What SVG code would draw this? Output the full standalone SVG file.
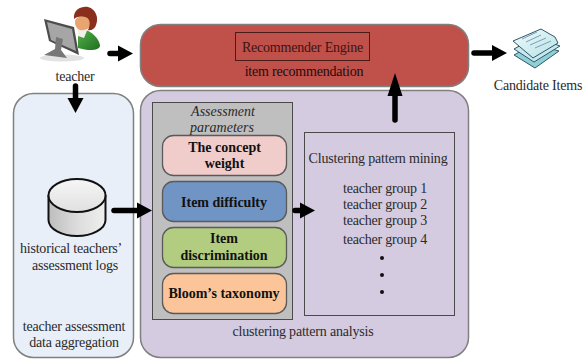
<svg xmlns="http://www.w3.org/2000/svg" width="587" height="361" viewBox="0 0 587 361">
<style>
text{font-family:"Liberation Serif","Times New Roman",serif;fill:#2a2a2a;text-anchor:middle}
.t{font-size:14px;letter-spacing:-.2px}
.i{font-size:14px;font-style:italic}
.b{font-size:14px;font-weight:bold;fill:#111}
.p{stroke:#5a5a5a;stroke-width:1.300}
.o{stroke:#808080;stroke-width:1.500}
.c{fill:none;stroke:#000;stroke-width:5.500;stroke-linecap:round}
</style>
<defs>
<marker id="ah" markerUnits="userSpaceOnUse" markerWidth="16" markerHeight="18" refX="0" refY="8.500" orient="auto"><path d="M0 0.500L15 8.500L0 16.500Z" fill="#000"/></marker>
<marker id="al" markerUnits="userSpaceOnUse" markerWidth="24" markerHeight="18" refX="0" refY="8.500" orient="auto"><path d="M0 1L23 8.500L0 16Z" fill="#000"/></marker>
<linearGradient id="cyl" x1="0" x2="1" y1="0" y2="0"><stop offset="0" stop-color="#bdbdbd"/><stop offset=".5" stop-color="#dcdcdc"/><stop offset="1" stop-color="#efefef"/></linearGradient>
<linearGradient id="top" x1="0" x2="0" y1="0" y2="1"><stop offset="0" stop-color="#f6f6f6"/><stop offset="1" stop-color="#e0e0e0"/></linearGradient>
<linearGradient id="sheet" x1="0" x2="1" y1="0" y2="1"><stop offset="0" stop-color="#f2fafc"/><stop offset="1" stop-color="#b4e2e6"/></linearGradient>
<linearGradient id="body" x1="0" x2="1" y1="0" y2="1"><stop offset="0" stop-color="#55b04a"/><stop offset="1" stop-color="#1f6f20"/></linearGradient>
</defs>
<rect width="587" height="361" fill="#fff"/>
<g id="teacher-assessment-data-aggregation">
<rect class="o" x="13.500" y="93.500" width="120" height="264" rx="20" fill="#e8eff8"/>
<text class="t" x="74" y="331">teacher assessment</text>
<text class="t" x="74" y="347">data aggregation</text>
</g>
<g id="clustering-pattern-analysis">
<rect class="o" x="140.500" y="90.500" width="328" height="267" rx="20" fill="#d5cbe0"/>
<text class="t" x="303" y="336">clustering pattern analysis</text>
</g>
<g id="recommender-engine">
<rect class="o" x="140.500" y="24.500" width="328" height="62" rx="20" fill="#c0504a"/>
<rect x="235.500" y="32.500" width="134" height="28" fill="none" stroke="#4a1c18"/>
<text class="t" x="302.500" y="52" style="fill:#3a1512">Recommender Engine</text>
<text class="t" x="304" y="76" style="fill:#1e0c0a">item recommendation</text>
</g>
<g id="teacher">
<ellipse cx="62" cy="58" rx="22" ry="3.500" fill="#e2e2e2"/>
<path d="M78 30C90 27 100 40 100 46C99 51 88 51 78 48Z" fill="url(#body)"/>
<path d="M77 27L88 28L84 38L78 36Z" fill="#f2f0e8"/>
<path d="M75 22C75 15 90 14 92 20C93 28 85 31 80 30C77 29 75 26 75 22Z" fill="#e8a56f"/>
<path d="M74 19C73 9 82 6 88 7C96 9 99 18 96 25C95 29 91 31 88 30C91 24 90 18 85 17C80 16 76 17 74 19Z" fill="#8a2f1d"/>
<path d="M44 19L74 27L79 55L49 41Z" fill="#4d4d4d"/>
<path d="M47 22L72 29L76 51L51 40Z" fill="#a6a6a6"/>
<path d="M56 37L63 39L61 50L67 58L44 55L55 49Z" fill="#777"/>
<text class="t" x="75" y="81">teacher</text>
</g>
<g id="candidate-items">
<path d="M514 55L534 44L559 51L535 68Z" fill="#8fd0d6" stroke="#2f5868"/>
<path d="M514 49L536 37L560 46L534 62Z" fill="#c6e8ee" stroke="#2f5868"/>
<path d="M513 41L541 29L555 37L558 43L533 58Z" fill="url(#sheet)" stroke="#2f5868"/>
<path d="M526 42L541 35M530 45L546 38M535 48L551 41M522 39L537 32" stroke="#7aa0b8" stroke-width="1"/>
<text class="t" x="538" y="90">Candidate Items</text>
</g>
<g id="historical-logs">
<path d="M48.500 196V220C48.500 229 62 236 77 236C92 236 105.500 229 105.500 220V196Z" fill="url(#cyl)" stroke="#111" stroke-width="2"/>
<ellipse cx="77" cy="195.500" rx="28.500" ry="16.500" fill="url(#top)" stroke="#111" stroke-width="2"/>
<text class="t" x="71" y="253">historical teachers’</text>
<text class="t" x="75" y="270">assessment logs</text>
</g>
<g id="assessment-parameters">
<rect x="152.500" y="102.500" width="140" height="217" fill="#bfbfbf" stroke="#4a4a4a"/>
<text class="i" x="223" y="116">Assessment</text>
<text class="i" x="222" y="132">parameters</text>
</g>
<g id="concept-weight">
<rect class="p" x="162.500" y="135.500" width="124" height="40" rx="11" fill="#f0cdcb"/>
<text class="b" x="224.500" y="152">The concept</text>
<text class="b" x="224.500" y="168">weight</text>
</g>
<g id="item-difficulty">
<rect class="p" x="162.500" y="181.500" width="124" height="40" rx="11" fill="#7094c4"/>
<text class="b" x="224" y="207">Item difficulty</text>
</g>
<g id="item-discrimination">
<rect class="p" x="162.500" y="227.500" width="124" height="40" rx="11" fill="#b2cc80"/>
<text class="b" x="224" y="243">Item</text>
<text class="b" x="224" y="260">discrimination</text>
</g>
<g id="blooms-taxonomy">
<rect class="p" x="162.500" y="273.500" width="124" height="40" rx="11" fill="#fbc599"/>
<text class="b" x="224" y="298">Bloom’s taxonomy</text>
</g>
<g id="clustering-pattern-mining">
<rect x="304.500" y="132.500" width="150" height="183" fill="#d5cbe0" stroke="#4a4a4a"/>
<text class="t" x="378" y="163">Clustering pattern mining</text>
<text class="t" x="385" y="193">teacher group 1</text>
<text class="t" x="385" y="209">teacher group 2</text>
<text class="t" x="385" y="225">teacher group 3</text>
<text class="t" x="385" y="244">teacher group 4</text>
<circle cx="382" cy="258" r="2" fill="#111"/>
<circle cx="382" cy="275" r="2" fill="#111"/>
<circle cx="382" cy="292" r="2" fill="#111"/>
</g>
<g id="connectors">
<path class="c" d="M110 53.500H118" marker-end="url(#ah)"/>
<path class="c" d="M75.500 86V98" marker-end="url(#ah)"/>
<path class="c" d="M474 53H492" marker-end="url(#ah)"/>
<path class="c" d="M114 210.500H137" marker-end="url(#ah)"/>
<path class="c" d="M295 210.500H300" marker-end="url(#ah)"/>
<path class="c" d="M395 120V96" marker-end="url(#al)"/>
</g>
</svg>
